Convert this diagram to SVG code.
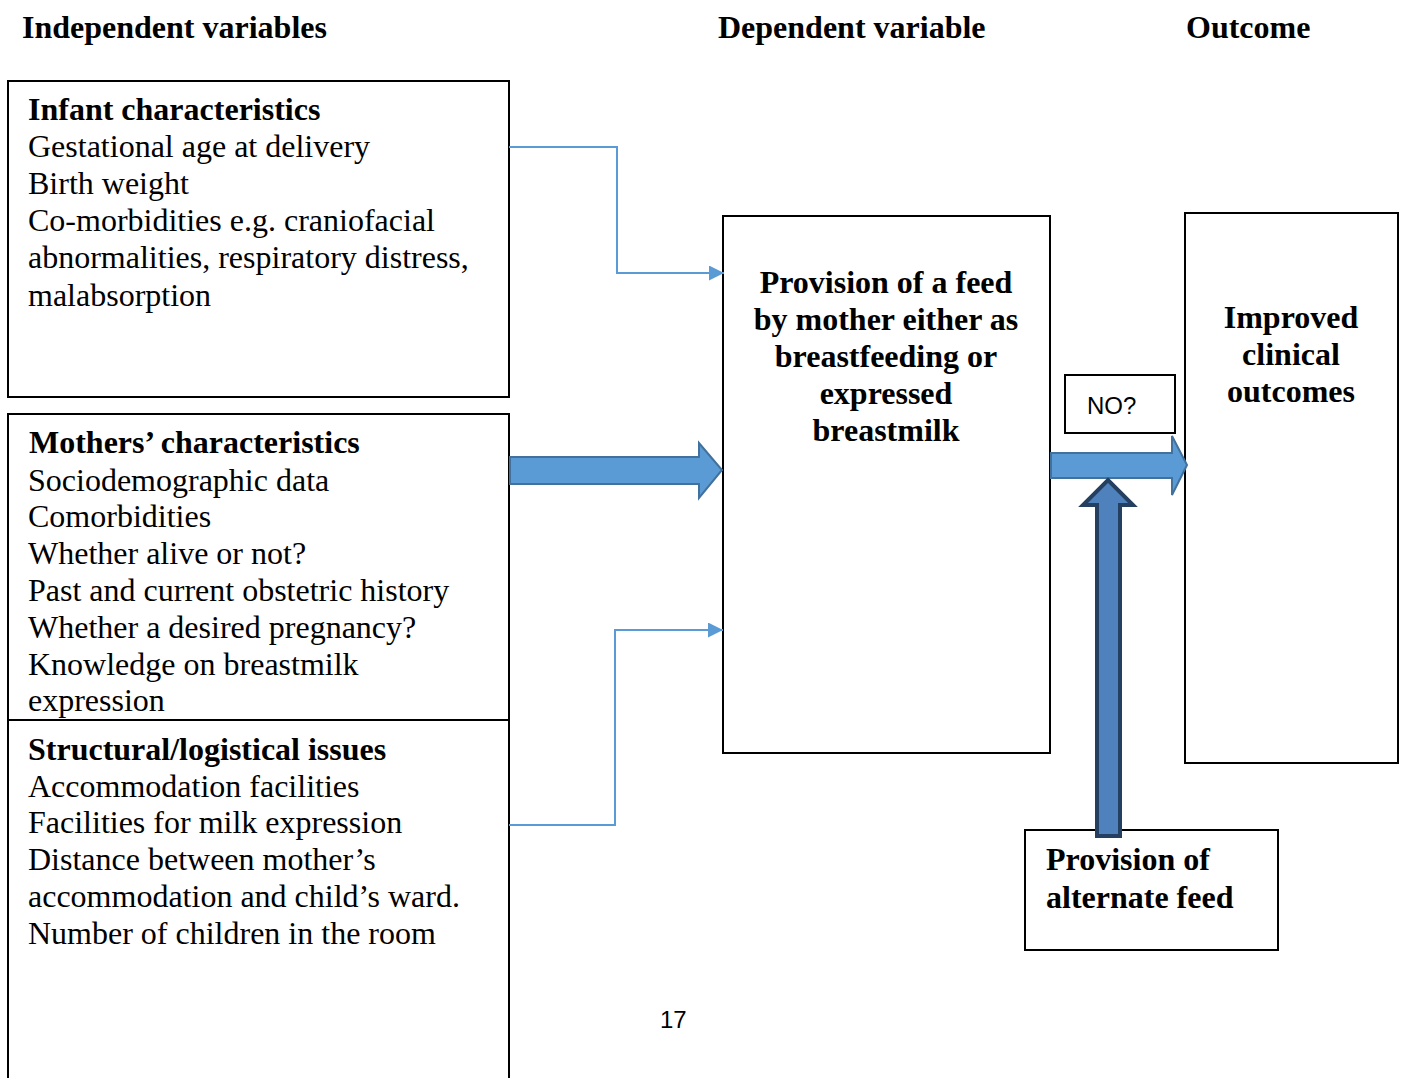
<svg xmlns="http://www.w3.org/2000/svg" width="1401" height="1078" viewBox="0 0 1401 1078">
<defs>
<style>
.t{font-family:"Liberation Serif","Times New Roman",serif;font-size:32px;fill:#000}
.b{font-weight:bold}
.s{font-family:"Liberation Sans",Arial,sans-serif;font-size:24px;fill:#000}
.box{fill:#fff;stroke:#000;stroke-width:2}
.thin{fill:none;stroke:#5b9bd5;stroke-width:2}
.fat{fill:#5b9bd5;stroke:#41719c;stroke-width:2}
</style>
<marker id="ah" viewBox="0 0 10 10" refX="10" refY="5" markerWidth="15" markerHeight="15" markerUnits="userSpaceOnUse" orient="auto"><path d="M0,0 L10,5 L0,10 z" fill="#5b9bd5"/></marker>
</defs>
<rect width="1401" height="1078" fill="#fff"/>
<g id="headers">
<text class="t b" x="22" y="38">Independent variables</text>
<text class="t b" x="718" y="38">Dependent variable</text>
<text class="t b" x="1186" y="38">Outcome</text>
</g>
<g id="infant">
<rect class="box" x="8" y="81" width="501" height="316"/>
<text class="t"><tspan class="b" x="28" y="120">Infant characteristics</tspan><tspan x="28" y="157">Gestational age at delivery</tspan><tspan x="28" y="194">Birth weight</tspan><tspan x="28" y="231">Co-morbidities e.g. craniofacial</tspan><tspan x="28" y="268">abnormalities, respiratory distress,</tspan><tspan x="28" y="306">malabsorption</tspan></text>
</g>
<g id="mothers">
<rect class="box" x="8" y="414" width="501" height="306"/>
<text class="t"><tspan class="b" x="29" y="453">Mothers’ characteristics</tspan><tspan x="28" y="491">Sociodemographic data</tspan><tspan x="28" y="527">Comorbidities</tspan><tspan x="28" y="564">Whether alive or not?</tspan><tspan x="28" y="601">Past and current obstetric history</tspan><tspan x="28" y="638">Whether a desired pregnancy?</tspan><tspan x="28" y="675">Knowledge on breastmilk</tspan><tspan x="28" y="711">expression</tspan></text>
</g>
<g id="structural">
<rect class="box" x="8" y="720" width="501" height="370"/>
<text class="t"><tspan class="b" x="28" y="760">Structural/logistical issues</tspan><tspan x="28" y="797">Accommodation facilities</tspan><tspan x="28" y="833">Facilities for milk expression</tspan><tspan x="28" y="870">Distance between mother’s</tspan><tspan x="28" y="907">accommodation and child’s ward.</tspan><tspan x="28" y="944">Number of children in the room</tspan></text>
</g>
<g id="dependent">
<rect class="box" x="723" y="216" width="327" height="537"/>
<text class="t b" text-anchor="middle"><tspan x="886" y="293">Provision of a feed</tspan><tspan x="886" y="330">by mother either as</tspan><tspan x="886" y="367">breastfeeding or</tspan><tspan x="886" y="404">expressed</tspan><tspan x="886" y="441">breastmilk</tspan></text>
</g>
<g id="outcome">
<rect class="box" x="1185" y="213" width="213" height="550"/>
<text class="t b" text-anchor="middle"><tspan x="1291" y="328">Improved</tspan><tspan x="1291" y="365">clinical</tspan><tspan x="1291" y="402">outcomes</tspan></text>
</g>
<g id="no">
<rect class="box" x="1065" y="375" width="110" height="58"/>
<text class="s" x="1087" y="414">NO?</text>
</g>
<g id="alternate">
<rect class="box" x="1025" y="830" width="253" height="120"/>
<text class="t b"><tspan x="1046" y="870">Provision of</tspan><tspan x="1046" y="908">alternate feed</tspan></text>
</g>
<g id="connectors">
<path class="thin" d="M509,147 H617 V273 H724" marker-end="url(#ah)"/>
<path class="thin" d="M509,825 H615 V630 H723" marker-end="url(#ah)"/>
<path class="fat" d="M510,457 H699 V443 L722,470 L699,498 V484 H510 Z"/>
<path class="fat" d="M1051,453 H1172 V436 L1187,465 L1172,495 V478 H1051 Z"/>
<path d="M1097,836 V505 H1083 L1108,480 L1133,505 H1120 V836 Z" fill="#4f81bd" stroke="#243f60" stroke-width="4"/>
</g>
<text class="s" x="660" y="1028">17</text>
</svg>
